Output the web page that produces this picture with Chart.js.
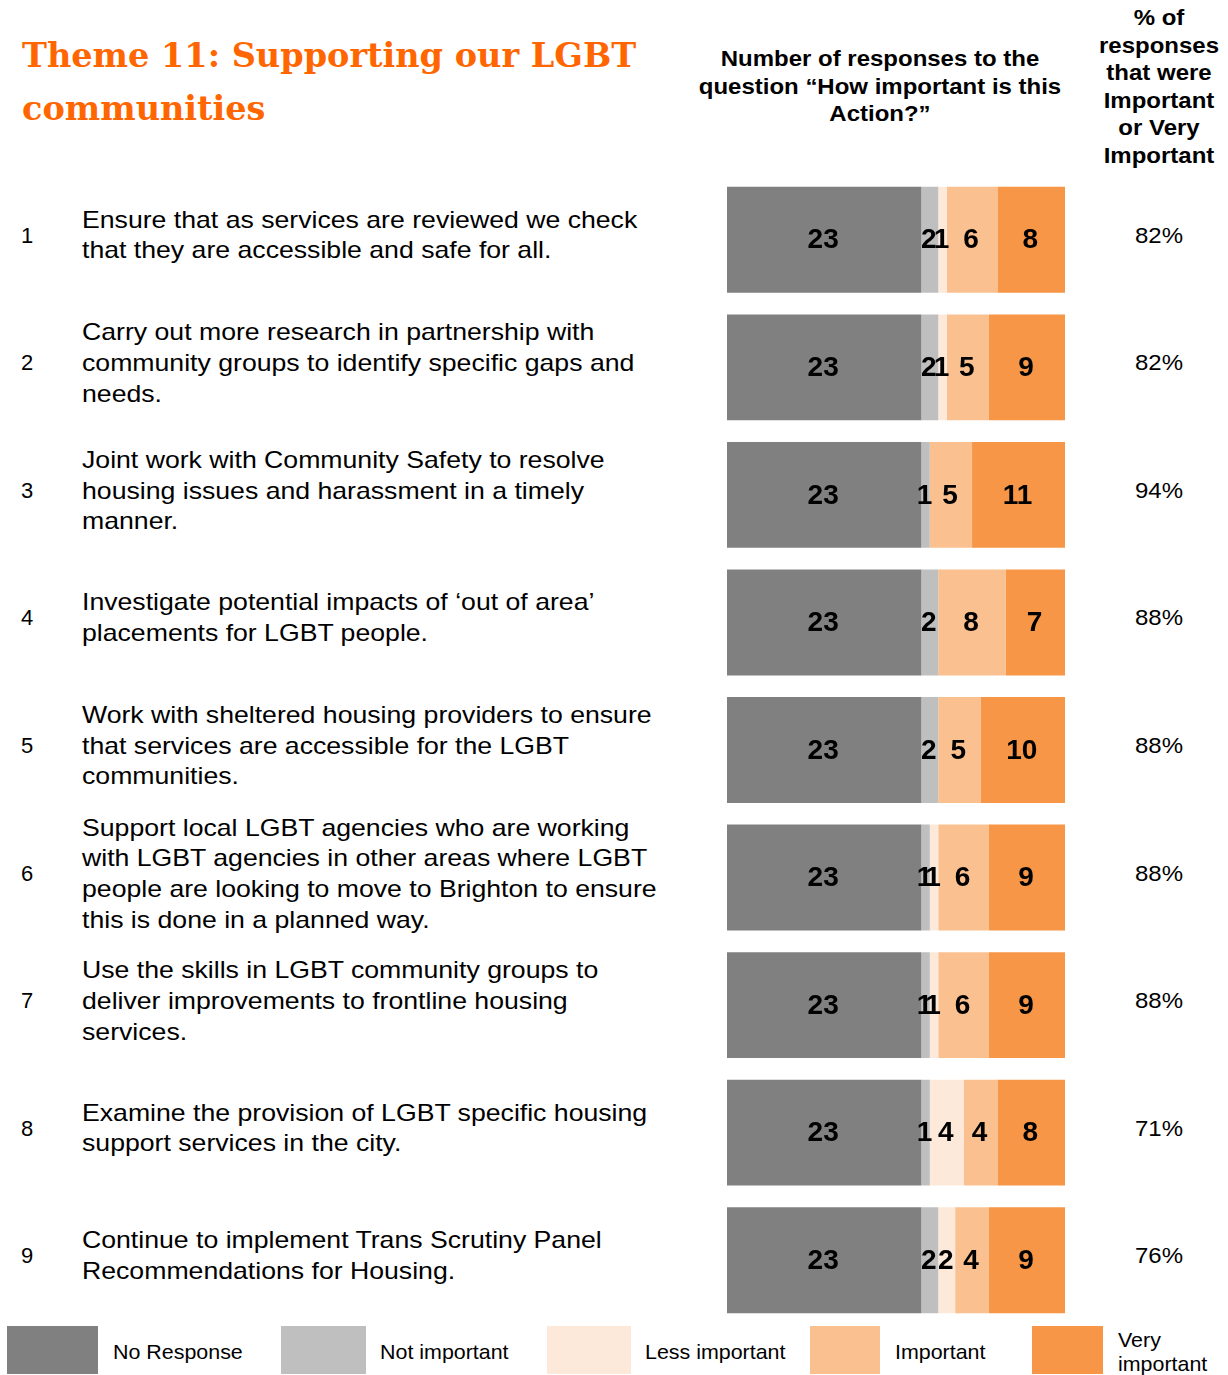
<!DOCTYPE html>
<html>
<head>
<meta charset="utf-8">
<script src="https://cdn.jsdelivr.net/npm/chart.js@4/dist/chart.umd.min.js"></script>
<style>
  body { margin: 0; background: #fff; font-family: "Liberation Sans", Arial, sans-serif; color: #000; }
  #page { position: relative; width: 1228px; height: 1375px; overflow: hidden; }
  #title { position: absolute; left: 22px; top: 29px; font-family: "DejaVu Serif", "Liberation Serif", serif; font-weight: bold; font-size: 33.5px; line-height: 53px; color: #ff6600; white-space: nowrap; }
  .head { position: absolute; text-align: center; font-weight: bold; font-size: 22px; line-height: 27.5px; transform: scaleX(1.09); transform-origin: center top; }
  #chartBox { position: absolute; left: 727px; top: 176px; width: 338px; height: 1148px; }
  .num, .txt, .pct { position: absolute; font-size: 24px; line-height: 30.7px; }
  .num { left: 21px; font-size: 22px; transform: translateY(-50%); }
  .txt { left: 82px; white-space: nowrap; transform: translateY(-50%) scaleX(1.11); transform-origin: left center; }
  .pct { left: 1109px; width: 100px; text-align: center; font-size: 22px; transform: translateY(-50%) scaleX(1.09); }
  .leg { position: absolute; top: 1326px; height: 48px; }
  .legTxt { position: absolute; font-size: 21px; line-height: 24px; transform: translateY(-50%) scaleX(1.02); transform-origin: left center; top: 1352px; white-space: nowrap; }
</style>
</head>
<body>
<div id="page">
  <div id="title">Theme 11: Supporting our LGBT<br>communities</div>
  <div class="head" style="left:690px; top:45px; width:380px;">Number of responses to the<br>question “How important is this<br>Action?”</div>
  <div class="head" style="left:1094px; top:4px; width:130px;">% of<br>responses<br>that were<br>Important<br>or Very<br>Important</div>
  <div id="chartBox"><canvas id="chart"></canvas></div>
  <div id="rows"></div>
  <div id="legend"></div>
</div>
<script>
'use strict';

let canvasElem = document.getElementById('chart');

const actions = [
  ['Ensure that as services are reviewed we check', 'that they are accessible and safe for all.'],
  ['Carry out more research in partnership with', 'community groups to identify specific gaps and', 'needs.'],
  ['Joint work with Community Safety to resolve', 'housing issues and harassment in a timely', 'manner.'],
  ['Investigate potential impacts of ‘out of area’', 'placements for LGBT people.'],
  ['Work with sheltered housing providers to ensure', 'that services are accessible for the LGBT', 'communities.'],
  ['Support local LGBT agencies who are working', 'with LGBT agencies in other areas where LGBT', 'people are looking to move to Brighton to ensure', 'this is done in a planned way.'],
  ['Use the skills in LGBT community groups to', 'deliver improvements to frontline housing', 'services.'],
  ['Examine the provision of LGBT specific housing', 'support services in the city.'],
  ['Continue to implement Trans Scrutiny Panel', 'Recommendations for Housing.']
];

const noResponse    = [23, 23, 23, 23, 23, 23, 23, 23, 23];
const notImportant  = [2, 2, 1, 2, 2, 1, 1, 1, 2];
const lessImportant = [1, 1, 0, 0, 0, 1, 1, 4, 2];
const important     = [6, 5, 5, 8, 5, 6, 6, 4, 4];
const veryImportant = [8, 9, 11, 7, 10, 9, 9, 8, 9];

const seriesNames  = ['No Response', 'Not important', 'Less important', 'Important', 'Very important'];
const seriesColors = ['#808080', '#bfbfbf', '#fde9d9', '#fac090', '#f79646'];

// value labels in the middle of every non-empty segment
const segmentLabels = {
  id: 'segmentLabels',
  afterDatasetsDraw(chart) {
    let ctx = chart.ctx;
    ctx.save();
    ctx.font = 'bold 28px "Liberation Sans", Arial, sans-serif';
    ctx.fillStyle = '#000';
    ctx.textAlign = 'center';
    ctx.textBaseline = 'middle';
    chart.data.datasets.forEach((ds, di) => {
      chart.getDatasetMeta(di).data.forEach((bar, i) => {
        if (!ds.data[i]) return;
        let c = bar.getCenterPoint();
        ctx.fillText(String(ds.data[i]), c.x - 1, c.y + 1);
      });
    });
    ctx.restore();
  }
};

function renderChart() {
  let rowLabels = actions.map((a, i) => String(i + 1));
  let allSeries = [noResponse, notImportant, lessImportant, important, veryImportant];

  let chartObj = {
    type: 'bar',
    data: {
      labels: rowLabels,
      datasets: allSeries.map((vals, i) => ({
        label: seriesNames[i],
        data: vals,
        backgroundColor: seriesColors[i],
        borderWidth: 0,
        barPercentage: 1,
        categoryPercentage: 0.83
      }))
    },
    options: {
      indexAxis: 'y',
      responsive: true,
      maintainAspectRatio: false,
      animation: false,
      layout: { padding: 0 },
      plugins: {
        legend: { display: false },
        tooltip: { enabled: false }
      },
      scales: {
        x: { stacked: true, min: 0, max: 40, display: false },
        y: { stacked: true, display: false }
      }
    },
    plugins: [segmentLabels]
  };
  return new Chart(canvasElem, chartObj);
}

let chart = renderChart();

// row numbers, action text and percentages, lined up with each bar
function renderRows() {
  let rows = document.getElementById('rows');
  let yScale = chart.scales.y;
  let top = document.getElementById('chartBox').offsetTop;
  actions.forEach((lines, i) => {
    let y = top + yScale.getPixelForValue(i) - 4;
    let answered = notImportant[i] + lessImportant[i] + important[i] + veryImportant[i];
    let pct = Math.round((important[i] + veryImportant[i]) / answered * 100);

    let num = document.createElement('div');
    num.className = 'num';
    num.style.top = y + 'px';
    num.textContent = String(i + 1);
    rows.appendChild(num);

    let txt = document.createElement('div');
    txt.className = 'txt';
    txt.style.top = y + 'px';
    txt.innerHTML = lines.join('<br>');
    rows.appendChild(txt);

    let p = document.createElement('div');
    p.className = 'pct';
    p.style.top = y + 'px';
    p.textContent = pct + '%';
    rows.appendChild(p);
  });
}

function renderLegend() {
  let legend = document.getElementById('legend');
  let swatchX = [7, 281, 547, 810, 1032];
  let swatchW = [91, 85, 84, 70, 71];
  let textX = [113, 380, 645, 895, 1118];
  let legendText = ['No Response', 'Not important', 'Less important', 'Important', 'Very<br>important'];
  seriesColors.forEach((col, i) => {
    let sw = document.createElement('div');
    sw.className = 'leg';
    sw.style.left = swatchX[i] + 'px';
    sw.style.width = swatchW[i] + 'px';
    sw.style.background = col;
    legend.appendChild(sw);

    let t = document.createElement('div');
    t.className = 'legTxt';
    t.style.left = textX[i] + 'px';
    t.innerHTML = legendText[i];
    legend.appendChild(t);
  });
}

renderRows();
renderLegend();
</script>
</body>
</html>
